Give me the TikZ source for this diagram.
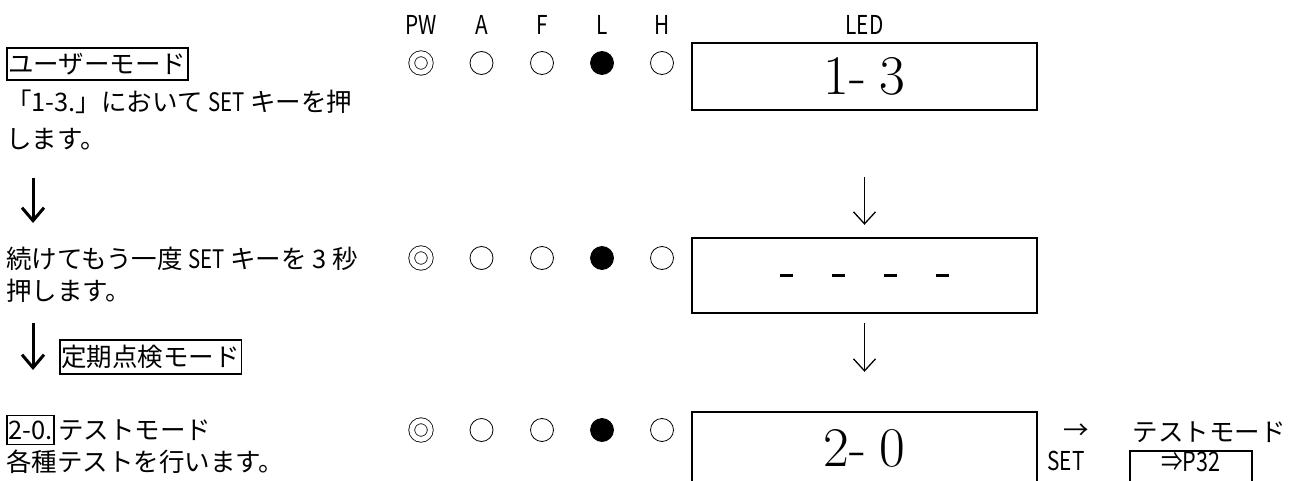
\documentclass[tikz,border=0pt]{standalone}
\usepackage{fontspec}
\newfontfamily\jpfont{Noto Sans CJK JP}
\newfontfamily\jpnarrow[FakeStretch=0.8]{Noto Sans CJK JP}
\newcommand\halfw[1]{{\jpnarrow #1}}
\usetikzlibrary{
    arrows.meta,
    positioning
}
\tikzset{
    jptext/.style = {
        font=\jpfont\fontsize{25.5}{32}\selectfont,
        inner sep=0pt,
        align=left
    },
    modebox/.style = {
        rectangle,
        draw,
        line width=1.8pt,
        font=\jpfont\fontsize{25.5}{30}\selectfont,
        inner xsep=1.5pt,
        inner ysep=5pt
    },
    lamplabel/.style = {
        font=\jpnarrow\fontsize{26}{26}\selectfont,
        inner sep=0pt
    },
    lamp/.style = {
        circle,
        draw,
        line width=0.8pt,
        minimum size=23pt,
        inner sep=0pt
    },
    lampon/.style = {
        lamp,
        fill=black
    },
    lamppw/.style = {
        lamp,
        minimum size=18.5pt,
        double,
        double distance=5pt
    },
    ledbox/.style = {
        rectangle,
        draw,
        line width=2.4pt,
        minimum width=345pt,
        font=\rmfamily\fontsize{56}{56}\selectfont
    },
    pagebox/.style = {
        rectangle,
        draw,
        line width=1.8pt,
        minimum width=122pt,
        text height=20pt,
        text depth=18pt,
        inner ysep=1pt,
        font=\jpnarrow\fontsize{27}{27}\selectfont
    },
    thinarrow/.style = {
        -{Straight Barb[length=12pt,width=22pt]},
        line width=1.3pt
    },
    thickarrow/.style = {
        -{Straight Barb[length=13pt,width=22pt]},
        line width=3pt
    }
}

\begin{document}
\begin{tikzpicture}[x=1pt, y=-1pt]
\useasboundingbox (0,0) rectangle (1303,481);
\clip (0,0) rectangle (1303,481);

\node (umode) [modebox, anchor=west] at (6,64) {ユーザーモード};
\node (udesc) [jptext, anchor=north west, font=\jpfont\fontsize{25.5}{37}\selectfont] at (6,90) {「1-3.」において \halfw{SET} キーを押\\します。};
\node (cdesc) [jptext, anchor=north west] at (6,247) {続けてもう一度 \halfw{SET} キーを 3 秒\\押します。};
\node (pmode) [modebox, anchor=west] at (59,357) {定期点検モード};
\node (tno) [modebox, anchor=west] at (6,430) {2-0.};
\node (tname) [jptext, right=3pt of tno] {テストモード};
\node (tdesc) [jptext, anchor=west] at (6,462) {各種テストを行います。};

\coordinate (ua) at (33,178);
\coordinate (ub) at (33,223);
\coordinate (pa) at (33,323);
\coordinate (pb) at (33,370);
\draw [thickarrow] (ua) -- (ub);
\draw [thickarrow] (pa) -- (pb);

\node (pw1) [lamppw] at (421,63) {};
\node (a1) [lamp] at (481.5,63) {};
\node (f1) [lamp] at (542,63) {};
\node (l1) [lampon] at (602,63) {};
\node (h1) [lamp] at (662,63) {};
\node (pw2) [lamppw] at (421,258) {};
\node (a2) [lamp] at (481.5,258) {};
\node (f2) [lamp] at (542,258) {};
\node (l2) [lampon] at (602,258) {};
\node (h2) [lamp] at (662,258) {};
\node (pw3) [lamppw] at (421,430) {};
\node (a3) [lamp] at (481.5,430) {};
\node (f3) [lamp] at (542,430) {};
\node (l3) [lampon] at (602,430) {};
\node (h3) [lamp] at (662,430) {};

\node (lpw) [lamplabel, above=18.5pt of pw1] {PW};
\node (la) [lamplabel, above=16pt of a1] {A};
\node (lf) [lamplabel, above=16pt of f1] {F};
\node (ll) [lamplabel, above=16pt of l1] {L};
\node (lh) [lamplabel, above=16pt of h1] {H};

\node (led1) [ledbox, minimum height=67pt] at (864.5,76.5) {1-\hspace{14pt}3};
\node (led2) [ledbox, minimum height=75pt] at (864.5,275.5) {\rule{13pt}{2.8pt}\hspace{38.7pt}\rule{13pt}{2.8pt}\hspace{38.7pt}\rule{13pt}{2.8pt}\hspace{38.7pt}\rule{13pt}{2.8pt}};
\node (led3) [ledbox, minimum height=72pt] at (864.5,448) {2-\hspace{14pt}0};
\node (lled) [lamplabel, above=7pt of led1] {LED};

\draw [thinarrow, shorten <=66pt, shorten >=12pt] (led1) -- (led2);
\draw [thinarrow, shorten <=9pt, shorten >=39pt] (led2) -- (led3);

\node (go) [jptext] at (1076,432) {→};
\node (setkey) [lamplabel] at (1066,461) {SET};
\node (tmode) [jptext] at (1209,432) {テストモード};
\node (tpage) [pagebox, anchor=north] at (1191,450) {⇒P32};
\end{tikzpicture}
\end{document}
